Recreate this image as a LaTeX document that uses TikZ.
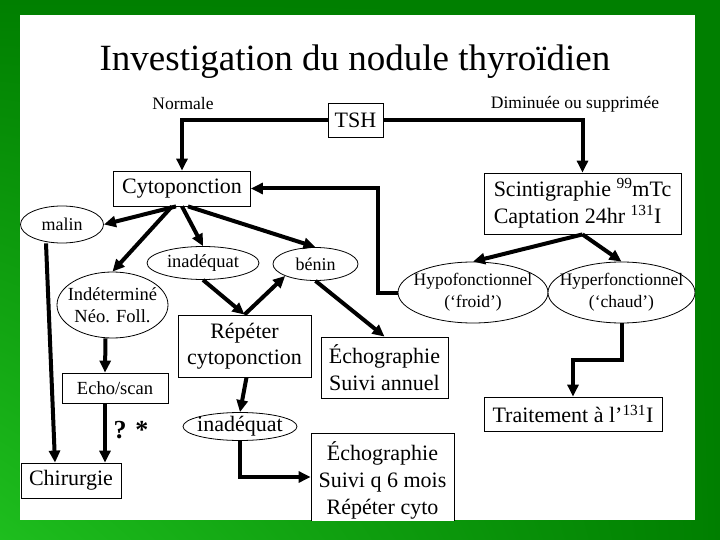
\documentclass[tikz,border=0pt]{standalone}
\usepackage{fontspec}
\setmainfont{Liberation Serif}
\usepackage{tikz}
\usetikzlibrary{
  arrows.meta, positioning, shapes.geometric, calc, shadings
}
\definecolor{slidedark}{HTML}{007F00}
\definecolor{slidelight}{HTML}{1EBE1E}

\begin{document}
\begin{tikzpicture}[
    x=1pt, y=-1pt,
    box/.style={draw, line width=0.8pt, fill=white, inner sep=2pt, align=center,
      font=\fontsize{22}{26}\selectfont},
    oval/.style={draw, ellipse, line width=0.8pt, fill=white, inner xsep=-14pt, inner ysep=-4pt,
      align=center, font=\fontsize{#1}{22}\selectfont},
    arrow/.style={-{Triangle[length=12pt, width=11pt]}, line width=4pt},
]
    % Slide background
    \shade[lower left=slidelight, upper left=slidedark, upper right=slidedark, lower right=slidedark]
      (0,0) rectangle (720,540);
    \fill[white] (20,15) rectangle (695,520);

    \begin{scope}
    \clip (20,15) rectangle (695,520);

    % Title
    \node[font=\fontsize{37}{40}\selectfont] (title) at (355,62) {Investigation du nodule thyroïdien};

    % TSH
    \node[box, minimum width=55pt, minimum height=34pt] (tsh) at (355.5,120) {TSH};
    \node[font=\fontsize{17.5}{20}\selectfont] (normale) at (183,104) {Normale};
    \node[font=\fontsize{17.5}{20}\selectfont] (dimin) at (575,104) {Diminuée ou supprimée};

    % Cytoponction branch
    \node[box, minimum width=137pt, minimum height=35pt] (cyto) at (182,188.5) {Cytoponction};
    \node[oval=18, minimum width=83pt, minimum height=37pt] (malin) at (62,224.5) {malin};
    \node[oval=18.5, minimum width=112pt, minimum height=33pt] (inad) at (203,263) {inadéquat};
    \node[oval=18, minimum width=85pt, minimum height=33pt] (benin) at (315.5,264) {bénin};
    \node[oval=18.5, minimum width=111pt, minimum height=66pt] (indet) at (112.5,305) {Indéterminé\\Néo. Foll.};
    \node[box, font=\fontsize{18.5}{22}\selectfont, minimum width=106pt, minimum height=30pt] (echoscan) at (115,388) {Echo/scan};
    \node[box, minimum width=100pt, minimum height=35pt] (chir) at (71,480.5) {Chirurgie};
    \node[box, font=\fontsize{22}{26}\selectfont, minimum width=133pt, minimum height=62pt] (rep) at (244.5,346) {Répéter\\cytoponction};
    \node[box, font=\fontsize{22}{27}\selectfont, minimum width=127pt, minimum height=61pt] (echoan) at (384.5,367.5) {Échographie\\Suivi annuel};
    \node[oval=22, minimum width=114pt, minimum height=28pt] (inad2) at (240,426.5) {inadéquat};
    \node[box, font=\fontsize{22}{27}\selectfont, minimum width=143pt, minimum height=94pt] (echosix) at (382.5,480) {Échographie\\Suivi q 6 mois\\Répéter cyto};
    \node[font=\bfseries\fontsize{26}{28}\selectfont] (qmark) at (131,430) {? *};

    % Scintigraphie branch
    \node[box, align=left, font=\fontsize{22}{27}\selectfont, minimum width=197pt, minimum height=61pt] (scint) at (582.5,203.5)
      {Scintigraphie \textsuperscript{99}mTc\\Captation 24hr \textsuperscript{131}I};
    \node[oval=17.5, minimum width=150pt, minimum height=61pt] (hypo) at (473,292.5) {Hypofonctionnel\\(‘froid’)};
    \node[oval=17.5, minimum width=147pt, minimum height=61pt] (hyper) at (621.5,292.5) {Hyperfonctionnel\\(‘chaud’)};
    \node[box, minimum width=178pt, minimum height=34pt] (traite) at (573,414) {Traitement à l’\textsuperscript{131}I};

    % Arrows from TSH
    \draw[arrow] (tsh.west) -| (cyto.north);
    \draw[arrow] (tsh.east) -| (scint.north);

    % Arrows from Cytoponction
    \draw[arrow] ([xshift=-6pt]cyto.south) -- (malin.east);
    \draw[arrow] ([xshift=-10pt]cyto.south) -- (indet.north);
    \draw[arrow] (cyto.south) -- (inad.north);
    \draw[arrow] ([xshift=6pt]cyto.south) -- (benin.north);

    \draw[arrow] ([xshift=-16pt]malin.south) -- ([xshift=-16pt]chir.north);
    \draw[arrow] ([xshift=-7pt]indet.south) -- ([xshift=-10pt]echoscan.north);
    \draw[arrow] ([xshift=-10pt]echoscan.south) -- ([xshift=-10pt]echoscan.south |- chir.north);
    \draw[arrow] (inad.south) -- (rep.north);
    \draw[arrow] (rep.north) -- (benin.south west);
    \draw[arrow] (benin.south) -- (echoan.north);
    \draw[arrow] ([xshift=2pt]rep.south) -- (inad2.north);
    \draw[arrow] (inad2.south) |- ([yshift=3pt]echosix.west);

    % Arrows from Scintigraphie
    \draw[arrow] (scint.south) -- (hypo.north);
    \draw[arrow] (scint.south) -- (hyper.north);
    \draw[arrow] (hypo.west) -- ++(-20,0) |- (cyto.east);
    \draw[arrow] (hyper.south) -- ++(0,37) -| (traite.north);
    \end{scope}
\end{tikzpicture}
\end{document}
